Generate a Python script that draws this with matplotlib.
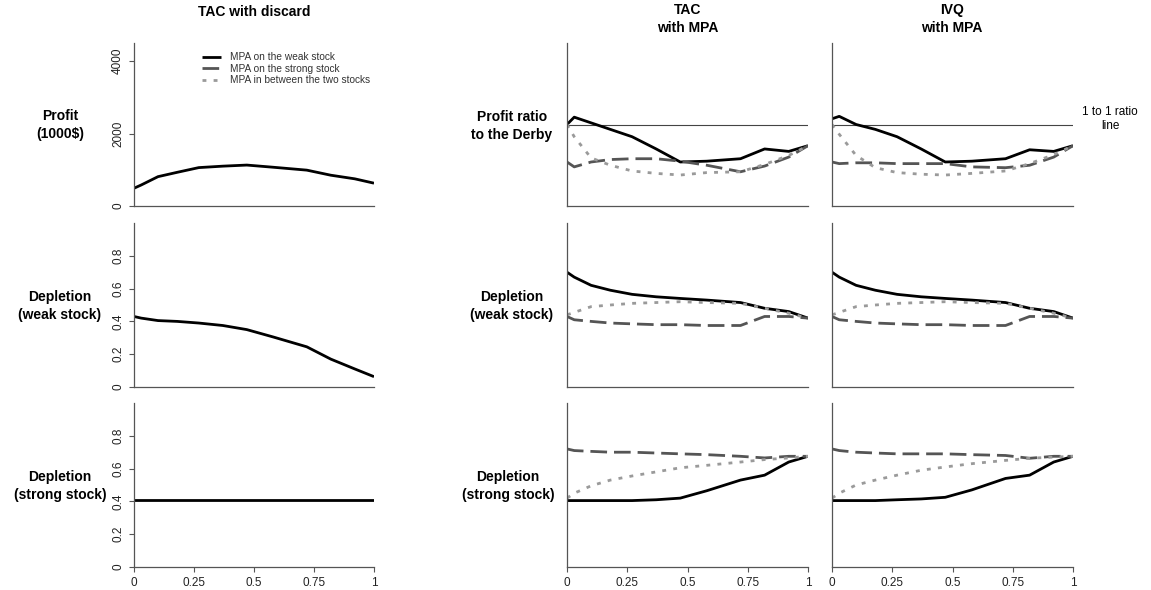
import numpy as np
import matplotlib.pyplot as plt

plt.rcParams['font.family'] = ['Liberation Sans', 'DejaVu Sans']

# proportion of the area closed (shared x grid for every series)
mpa_size = [0, 0.03, 0.1, 0.18, 0.27, 0.37, 0.47, 0.58, 0.72, 0.82, 0.92, 1.0]

# TAC with discard (no MPA)
discard_profit = [490, 580, 810, 930, 1060, 1100, 1130, 1070, 990, 850, 750, 630]
discard_weak = [0.43, 0.42, 0.405, 0.40, 0.39, 0.375, 0.35, 0.305, 0.245, 0.17, 0.11, 0.063]
discard_strong = [0.41] * 12

# TAC with MPA: profit ratio to the Derby
tac_ratio_weak = [1.0, 1.09, 1.02, 0.94, 0.85, 0.70, 0.54, 0.55, 0.58, 0.70, 0.67, 0.74]
tac_ratio_strong = [0.54, 0.48, 0.54, 0.57, 0.58, 0.58, 0.55, 0.50, 0.42, 0.49, 0.60, 0.74]
tac_ratio_between = [1.0, 0.85, 0.59, 0.50, 0.43, 0.40, 0.38, 0.41, 0.42, 0.51, 0.62, 0.74]

# TAC with MPA: depletion of the weak stock
tac_weakdep_weak = [0.70, 0.67, 0.62, 0.59, 0.565, 0.55, 0.54, 0.53, 0.515, 0.48, 0.46, 0.42]
tac_weakdep_strong = [0.43, 0.41, 0.40, 0.39, 0.385, 0.38, 0.38, 0.375, 0.375, 0.43, 0.43, 0.42]
tac_weakdep_between = [0.44, 0.455, 0.49, 0.50, 0.51, 0.515, 0.52, 0.515, 0.51, 0.48, 0.45, 0.42]

# TAC with MPA: depletion of the strong stock
tac_strongdep_weak = [0.405, 0.405, 0.405, 0.405, 0.405, 0.41, 0.42, 0.465, 0.53, 0.56, 0.64, 0.675]
tac_strongdep_strong = [0.72, 0.71, 0.705, 0.70, 0.70, 0.695, 0.69, 0.685, 0.675, 0.665, 0.675, 0.675]
tac_strongdep_between = [0.42, 0.45, 0.495, 0.53, 0.555, 0.58, 0.605, 0.62, 0.64, 0.655, 0.665, 0.675]

# IVQ with MPA
ivq_ratio_weak = [1.07, 1.10, 1.0, 0.94, 0.85, 0.70, 0.54, 0.55, 0.58, 0.69, 0.67, 0.74]
ivq_ratio_strong = [0.54, 0.52, 0.53, 0.53, 0.52, 0.52, 0.52, 0.48, 0.47, 0.50, 0.60, 0.74]
ivq_ratio_between = [1.0, 0.88, 0.62, 0.47, 0.41, 0.39, 0.38, 0.40, 0.43, 0.52, 0.63, 0.74]

ivq_weakdep_weak = [0.70, 0.67, 0.62, 0.59, 0.565, 0.55, 0.54, 0.53, 0.515, 0.48, 0.46, 0.42]
ivq_weakdep_strong = [0.43, 0.41, 0.40, 0.39, 0.385, 0.38, 0.38, 0.375, 0.375, 0.43, 0.43, 0.42]
ivq_weakdep_between = [0.44, 0.455, 0.49, 0.50, 0.51, 0.515, 0.52, 0.515, 0.51, 0.48, 0.45, 0.42]

ivq_strongdep_weak = [0.405, 0.405, 0.405, 0.405, 0.41, 0.415, 0.425, 0.47, 0.54, 0.56, 0.64, 0.675]
ivq_strongdep_strong = [0.72, 0.71, 0.70, 0.695, 0.69, 0.69, 0.69, 0.685, 0.68, 0.663, 0.675, 0.675]
ivq_strongdep_between = [0.42, 0.45, 0.50, 0.53, 0.56, 0.59, 0.61, 0.63, 0.65, 0.663, 0.67, 0.675]

legend_labels = ['MPA on the weak stock', 'MPA on the strong stock',
                 'MPA in between the two stocks']
x_ticks = [0, 0.25, 0.5, 0.75, 1]
x_ticklabels = ['0', '0.25', '0.5', '0.75', '1']

LW = 2.0
styles = [
    dict(color='black', lw=LW, ls='-', solid_capstyle='butt'),
    dict(color='#555555', lw=LW, ls=(0, (6, 2.5))),
    dict(color='#9a9a9a', lw=LW, ls=(0, (1.4, 2.6))),
]

fig = plt.figure(figsize=(11.51, 5.90), dpi=100)

W, H = 1151, 590
col_px = [(134, 374), (567, 808), (832, 1073)]
row_px = [(43, 206), (223, 387), (403, 567)]

axes = {}
for r, (top, bot) in enumerate(row_px):
    for c, (left, right) in enumerate(col_px):
        ax = fig.add_axes([left / W, 1 - bot / H, (right - left) / W, (bot - top) / H])
        axes[r, c] = ax
        for s in ['top', 'right']:
            ax.spines[s].set_visible(False)
        for s in ['left', 'bottom']:
            ax.spines[s].set_color('#555555')
            ax.spines[s].set_linewidth(0.9)
        ax.set_xlim(0, 1)
        ax.tick_params(direction='out', length=3.6, width=0.8, color='#555555',
                       labelsize=8.5, labelcolor='#222222')
        if r == 2:
            ax.set_xticks(x_ticks)
            ax.set_xticklabels(x_ticklabels)
        else:
            ax.set_xticks([])
        if c != 0:
            ax.set_yticks([])


def draw(ax, series):
    for ys, st in zip(series, styles):
        ax.plot(mpa_size, ys, **st)


# left column: TAC with discard
ax = axes[0, 0]
ax.plot(mpa_size, discard_profit, **styles[0])
ax.set_ylim(0, 4500)
ax.set_yticks([0, 2000, 4000])
ax.set_yticklabels(['0', '2000', '4000'])

ax = axes[1, 0]
ax.plot(mpa_size, discard_weak, **styles[0])
ax = axes[2, 0]
ax.plot(mpa_size, discard_strong, **styles[0])
for r in (1, 2):
    axes[r, 0].set_ylim(0, 1)
    axes[r, 0].set_yticks([0, 0.2, 0.4, 0.6, 0.8])
    axes[r, 0].set_yticklabels(['0', '0.2', '0.4', '0.6', '0.8'])
for r in range(3):
    plt.setp(axes[r, 0].get_yticklabels(), rotation=90, va='center')

# MPA columns
draw(axes[0, 1], [tac_ratio_weak, tac_ratio_strong, tac_ratio_between])
draw(axes[1, 1], [tac_weakdep_weak, tac_weakdep_strong, tac_weakdep_between])
draw(axes[2, 1], [tac_strongdep_weak, tac_strongdep_strong, tac_strongdep_between])
draw(axes[0, 2], [ivq_ratio_weak, ivq_ratio_strong, ivq_ratio_between])
draw(axes[1, 2], [ivq_weakdep_weak, ivq_weakdep_strong, ivq_weakdep_between])
draw(axes[2, 2], [ivq_strongdep_weak, ivq_strongdep_strong, ivq_strongdep_between])

for c in (1, 2):
    axes[0, c].set_ylim(0, 2)
    axes[0, c].axhline(1, color='#444444', lw=0.8, zorder=1)
    axes[1, c].set_ylim(0, 1)
    axes[2, c].set_ylim(0, 1)

# legend in the first panel
handles = [plt.Line2D([], [], **st) for st in styles]
axes[0, 0].legend(handles, legend_labels, loc='upper left', bbox_to_anchor=(0.245, 1.0),
                  frameon=False, fontsize=7.3, handlelength=1.9, handletextpad=0.9,
                  labelspacing=0.15, labelcolor='#333333')

# column titles
title_kw = dict(ha='center', va='center', fontsize=10, fontweight='bold', linespacing=1.3)
fig.text(254 / W, 1 - 12 / H, 'TAC with discard', **title_kw)
fig.text(688 / W, 1 - 19 / H, 'TAC\nwith MPA', **title_kw)
fig.text(952 / W, 1 - 19 / H, 'IVQ\nwith MPA', **title_kw)

# row labels
row_kw = dict(ha='center', va='center', fontsize=10, fontweight='bold', linespacing=1.3)
fig.text(60 / W, 1 - 125 / H, 'Profit\n(1000$)', **row_kw)
fig.text(60 / W, 1 - 306 / H, 'Depletion\n(weak stock)', **row_kw)
fig.text(60 / W, 1 - 486 / H, 'Depletion\n(strong stock)', **row_kw)
fig.text(512 / W, 1 - 126 / H, 'Profit ratio\nto the Derby', **row_kw)
fig.text(512 / W, 1 - 306 / H, 'Depletion\n(weak stock)', **row_kw)
fig.text(508 / W, 1 - 486 / H, 'Depletion\n(strong stock)', **row_kw)

fig.text(1110 / W, 1 - 119 / H, '1 to 1 ratio\nline', ha='center', va='center',
         fontsize=8.5, linespacing=1.2)

fig.savefig('out.png', dpi=100)
